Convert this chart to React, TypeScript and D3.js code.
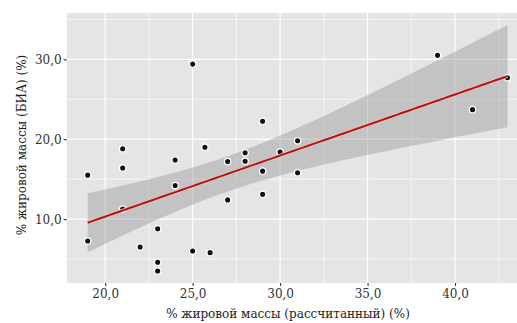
import React, { useEffect, useRef } from 'react';
import * as d3 from 'd3';

// % fat mass: calculated (x) vs bioimpedance (y)
const calcFat = [
  19, 19, 21, 21, 21, 22, 23, 23, 23, 24, 24, 25, 25, 25.7,
  26, 27, 27, 28, 28, 29, 29, 29, 30, 31, 31, 39, 41, 43,
];
const biaFat = [
  15.5, 7.25, 18.8, 16.4, 11.25, 6.5, 8.8, 4.6, 3.5, 17.4, 14.2, 29.4, 6.0, 19.0,
  5.8, 17.2, 12.4, 18.3, 17.25, 22.25, 16.0, 13.1, 18.4, 19.8, 15.8, 30.5, 23.7, 27.7,
];

const xDomain = [17.8, 44.2];
const yDomain = [2.0, 35.8];
const xMajor = [20, 25, 30, 35, 40];
const xMinor = [22.5, 27.5, 32.5, 37.5, 42.5];
const yMajor = [10, 20, 30];
const yMinor = [5, 15, 25, 35];

const xTitle = '% жировой массы (рассчитанный) (%)';
const yTitle = '% жировой массы (БИА) (%)';

const W = 517;
const H = 323;
const FONT = "'DejaVu Serif', serif";

const fmt = (v: number) => d3.format('.1f')(v).replace('.', ',');

export default function App() {
  const svgRef = useRef<SVGSVGElement>(null);

  useEffect(() => {
    if (!svgRef.current) return;
    const svg = d3.select(svgRef.current);
    svg.selectAll('*').remove();

    const panel = { left: 66.7, top: 13, right: 528.5, bottom: 283 };

    const x = d3.scaleLinear().domain(xDomain).range([panel.left, panel.right]);
    const y = d3.scaleLinear().domain(yDomain).range([panel.bottom, panel.top]);

    // linear fit with 95% confidence band
    const n = calcFat.length;
    const mx = d3.mean(calcFat) as number;
    const my = d3.mean(biaFat) as number;
    const sxx = d3.sum(calcFat, d => (d - mx) ** 2);
    const sxy = d3.sum(calcFat, (d, i) => (d - mx) * (biaFat[i] - my));
    const slope = sxy / sxx;
    const icpt = my - slope * mx;
    const rss = d3.sum(calcFat, (d, i) => (biaFat[i] - (icpt + slope * d)) ** 2);
    const s = Math.sqrt(rss / (n - 2));
    const tCrit = 2.056;
    const xMin = d3.min(calcFat) as number;
    const xMax = d3.max(calcFat) as number;
    const band = d3.range(0, 81).map(k => {
      const xv = xMin + ((xMax - xMin) * k) / 80;
      const fit = icpt + slope * xv;
      const se = s * Math.sqrt(1 / n + (xv - mx) ** 2 / sxx);
      return { x: xv, fit, lo: fit - tCrit * se, hi: fit + tCrit * se };
    });

    // panel
    svg.append('rect')
      .attr('x', panel.left)
      .attr('y', panel.top)
      .attr('width', panel.right - panel.left)
      .attr('height', panel.bottom - panel.top)
      .attr('fill', '#e5e5e5');

    const grid = svg.append('g').attr('stroke', '#fff');
    xMinor.forEach(v => grid.append('line')
      .attr('x1', x(v)).attr('x2', x(v)).attr('y1', panel.top).attr('y2', panel.bottom)
      .attr('stroke-width', 0.6));
    yMinor.forEach(v => grid.append('line')
      .attr('y1', y(v)).attr('y2', y(v)).attr('x1', panel.left).attr('x2', panel.right)
      .attr('stroke-width', 0.6));
    xMajor.forEach(v => grid.append('line')
      .attr('x1', x(v)).attr('x2', x(v)).attr('y1', panel.top).attr('y2', panel.bottom)
      .attr('stroke-width', 1.2));
    yMajor.forEach(v => grid.append('line')
      .attr('y1', y(v)).attr('y2', y(v)).attr('x1', panel.left).attr('x2', panel.right)
      .attr('stroke-width', 1.2));

    // ribbon
    const area = d3.area<typeof band[0]>()
      .x(d => x(d.x))
      .y0(d => y(d.lo))
      .y1(d => y(d.hi));
    svg.append('path')
      .datum(band)
      .attr('d', area)
      .attr('fill', '#999')
      .attr('fill-opacity', 0.45);

    // points
    svg.append('g')
      .selectAll('circle')
      .data(calcFat)
      .join('circle')
      .attr('cx', d => x(d))
      .attr('cy', (d, i) => y(biaFat[i]))
      .attr('r', 3.2)
      .attr('fill', '#111')
      .attr('stroke', '#fff')
      .attr('stroke-width', 1.3);

    // fit line
    const line = d3.line<typeof band[0]>().x(d => x(d.x)).y(d => y(d.fit));
    svg.append('path')
      .datum(band)
      .attr('d', line)
      .attr('fill', 'none')
      .attr('stroke', '#f2c4c4')
      .attr('stroke-width', 3.4);
    svg.append('path')
      .datum(band)
      .attr('d', line)
      .attr('fill', 'none')
      .attr('stroke', '#ad1519')
      .attr('stroke-width', 2);

    // axes
    const xAxis = svg.append('g')
      .attr('transform', `translate(0,${panel.bottom})`)
      .call(d3.axisBottom(x).tickValues(xMajor).tickSize(3).tickPadding(3).tickFormat(d => fmt(+d)));
    const yAxis = svg.append('g')
      .attr('transform', `translate(${panel.left},0)`)
      .call(d3.axisLeft(y).tickValues(yMajor).tickSize(3).tickPadding(2).tickFormat(d => fmt(+d)));
    [xAxis, yAxis].forEach(a => {
      a.select('.domain').remove();
      a.selectAll('line').attr('stroke', '#333').attr('stroke-width', 1.1);
      a.selectAll('text')
        .attr('fill', '#333')
        .attr('font-family', FONT)
        .attr('font-size', 12);
    });
    yAxis.selectAll('text').attr('dy', '0.36em');

    svg.append('text')
      .attr('x', 288)
      .attr('y', 318)
      .attr('text-anchor', 'middle')
      .attr('fill', '#222')
      .attr('font-family', FONT)
      .attr('font-size', 12)
      .text(xTitle);

    svg.append('text')
      .attr('transform', `translate(26,${(panel.top + panel.bottom) / 2 - 3}) rotate(-90)`)
      .attr('text-anchor', 'middle')
      .attr('fill', '#222')
      .attr('font-family', FONT)
      .attr('font-size', 12)
      .text(yTitle);
  }, []);

  return (
    <svg
      ref={svgRef}
      width={W}
      height={H}
      style={{ position: 'absolute', left: 0, top: 0, background: '#fff' }}
    />
  );
}
